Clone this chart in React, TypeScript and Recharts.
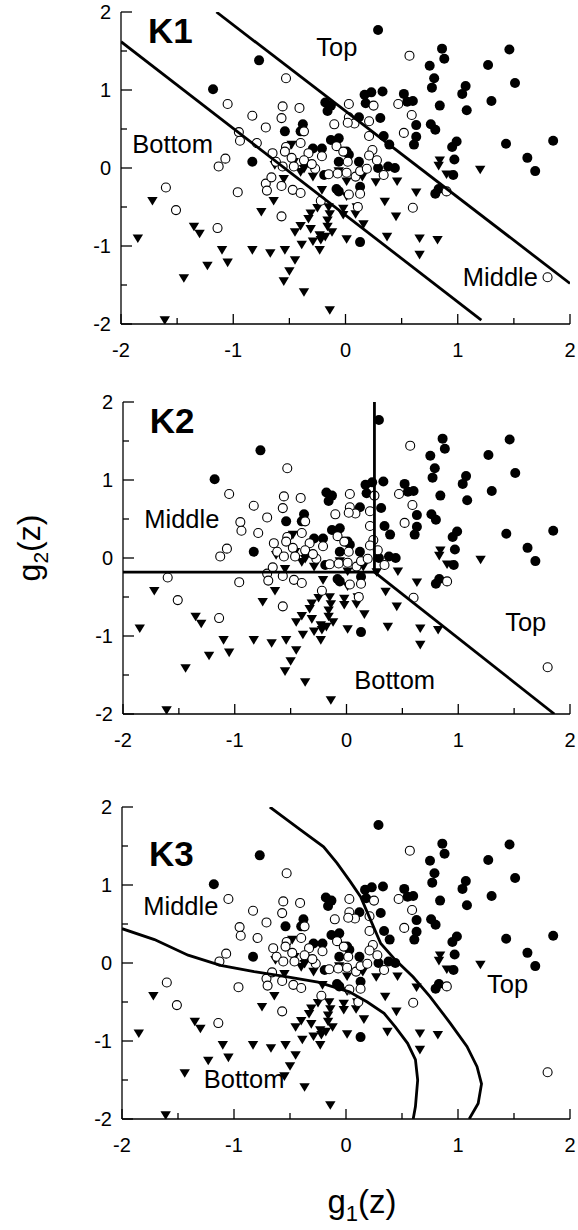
import React from "react";
import { ScatterChart, Scatter, XAxis, YAxis } from "recharts";

type XY = [number, number];

const TICKS = [-2, -1.5, -1, -0.5, 0, 0.5, 1, 1.5, 2];

// Top (filled circles)
const TOP: XY[] = [
  [0.29, 1.77], [-0.77, 1.38], [-1.18, 1.01], [0.86, 1.53], [0.88, 1.4], [1.46, 1.52],
  [0.75, 1.31], [1.27, 1.32], [0.79, 1.15], [0.77, 1.03], [1.51, 1.09], [1.07, 1.05],
  [1.04, 0.95], [1.3, 0.86], [0.84, 0.8], [1.08, 0.74], [0.76, 0.56], [0.8, 0.49],
  [0.99, 0.34], [0.95, 0.27], [1.43, 0.31], [1.85, 0.35], [0.97, 0.11], [1.62, 0.13],
  [1.69, -0.04], [0.17, 0.94], [0.23, 0.97], [0.33, 0.98], [0.18, 0.83], [0.52, 0.95],
  [0.55, 0.85], [0.6, 0.86], [-0.18, 0.84], [-0.13, 0.8], [-0.16, 0.73], [0.12, 0.65],
  [0.31, 0.64], [-0.38, 0.56], [-0.4, 0.47], [-0.54, 0.47], [0.34, 0.41], [0.63, 0.55],
  [0.63, 0.4], [0.61, 0.3], [-0.13, 0.36], [-0.06, 0.38], [-0.29, 0.25], [-0.21, 0.25],
  [0.01, 0.21], [0.03, 0.17], [0.39, 0.3], [-0.06, 0.08], [0.12, 0.08], [0.38, 0.02],
  [-0.83, 0.08], [0.29, 0.0], [0.44, 0.0], [0.96, -0.09], [0.8, -0.33], [0.83, -0.27],
  [-0.08, -0.27], [-0.06, -0.3], [0.13, -0.24], [0.13, -0.95], [-0.36, 0.07], [-0.19, -0.09],
];

// Middle (open circles)
const MIDDLE: XY[] = [
  [0.57, 1.44], [-0.53, 1.15], [-1.05, 0.82], [-0.83, 0.67], [-0.71, 0.52], [-0.95, 0.46],
  [-0.94, 0.35], [-0.79, 0.32], [-1.07, 0.12], [-1.13, 0.02], [0.47, 0.82], [0.03, 0.82],
  [0.25, 0.8], [-0.56, 0.79], [-0.41, 0.77], [-0.57, 0.64], [0.59, 0.68], [0.03, 0.65],
  [0.08, 0.57], [0.02, 0.58], [0.21, 0.6], [-0.1, 0.56], [-0.37, 0.47], [0.21, 0.41],
  [0.52, 0.45], [-0.4, 0.32], [-0.53, 0.27], [-0.54, 0.21], [-0.08, 0.28], [-0.02, 0.21],
  [-0.33, 0.19], [-0.21, 0.15], [0.24, 0.23], [0.21, 0.16], [-0.65, 0.19], [-0.48, 0.13],
  [0.02, 0.08], [0.28, 0.1], [-0.62, 0.08], [-1.6, -0.25], [-1.51, -0.54], [-0.96, -0.31],
  [-0.71, -0.2], [-0.7, -0.29], [-1.14, -0.77], [-0.66, -0.12], [-0.57, -0.23], [-0.47, -0.28],
  [-0.4, -0.32], [-0.57, -0.62], [-0.56, 0.02], [-0.46, 0.02], [-0.27, -0.01], [-0.15, -0.08],
  [-0.07, -0.07], [0.01, -0.06], [0.09, -0.11], [0.13, -0.04], [0.19, -0.01], [0.34, -0.09],
  [0.03, -0.34], [0.13, -0.33], [0.11, -0.5], [0.6, -0.51], [0.9, -0.3], [1.8, -1.4],
  [-0.22, -0.42], [-0.37, 0.1], [-0.3, 0.05],
];

// Bottom (filled triangles)
const BOTTOM: XY[] = [
  [-0.48, 0.3], [-1.72, -0.42], [-0.75, -0.56], [-1.35, -0.75], [-1.3, -0.84], [-1.85, -0.9],
  [-1.1, -1.05], [-0.83, -1.05], [-0.67, -1.09], [-1.23, -1.25], [-1.05, -1.21], [-1.44, -1.41],
  [-1.61, -1.95], [-0.55, -0.14], [-0.64, -0.42], [-0.37, -0.01], [-0.29, -0.11], [-0.21, -0.28],
  [0.01, -0.17], [0.46, -0.17], [0.27, -0.18], [0.01, -0.36], [0.63, -0.31], [-0.25, -0.51],
  [-0.31, -0.58], [-0.33, -0.65], [-0.15, -0.5], [-0.14, -0.59], [-0.16, -0.67], [-0.02, -0.52],
  [-0.02, -0.6], [0.09, -0.59], [0.35, -0.43], [0.45, -0.62], [-0.4, -0.74], [-0.45, -0.82],
  [-0.31, -0.78], [-0.16, -0.75], [-0.12, -0.82], [-0.23, -0.86], [-0.29, -0.94], [-0.22, -0.92],
  [-0.18, -0.88], [-0.39, -0.98], [-0.23, -1.05], [0.01, -0.91], [0.37, -0.88], [0.66, -0.9],
  [0.82, -0.92], [0.66, -1.11], [-0.54, -1.05], [-0.45, -1.18], [-0.5, -1.32], [-0.55, -1.45],
  [-0.37, -1.59], [-0.14, -1.82], [0.83, 0.03], [1.2, -0.02], [0.9, -0.08], [0.84, 0.1],
  [0.16, -0.72], [0.1, -0.5], [0.15, -0.11], [-0.4, -0.05], [-0.06, -0.04], [-0.46, 0.08],
  [-0.63, 0.04],
];

// K1 boundaries (two parallel lines)
const K1_LOWER: XY[] = [[-2, 1.62], [1.21, -1.95]];
const K1_UPPER: XY[] = [[-1.15, 2.0], [2.0, -1.48]];

// K2 boundaries
const K2_HORIZ: XY[] = [[-2, -0.18], [0.25, -0.18]];
const K2_VERT: XY[] = [[0.25, -0.18], [0.25, 2.0]];
const K2_DIAG: XY[] = [[0.25, -0.18], [1.86, -2.0]];

// K3 boundaries (curves)
const K3_LOWER: XY[] = [
  [-2, 0.44], [-1.71, 0.3], [-1.41, 0.1], [-1.12, -0.03], [-0.82, -0.11], [-0.55, -0.17],
  [-0.25, -0.245], [0.03, -0.37], [0.19, -0.5], [0.34, -0.645], [0.44, -0.82], [0.55, -1.03],
  [0.62, -1.24], [0.64, -1.5], [0.62, -1.84], [0.6, -2.0],
];
const K3_UPPER: XY[] = [
  [-0.68, 2.0], [-0.52, 1.83], [-0.4, 1.7], [-0.2, 1.49], [-0.08, 1.28], [0.04, 1.04],
  [0.13, 0.85], [0.22, 0.55], [0.31, 0.25], [0.44, 0.04], [0.6, -0.18], [0.75, -0.43],
  [0.93, -0.77], [1.08, -1.07], [1.17, -1.33], [1.21, -1.55], [1.18, -1.8], [1.1, -2.0],
];

const pts = (a: XY[]) => a.map(([x, y]) => ({ x, y }));

const FONT = "'Liberation Sans', Arial, sans-serif";

const Filled = (p: any) => <circle cx={p.cx} cy={p.cy} r={5} fill="#000" />;
const Open = (p: any) => (
  <circle cx={p.cx} cy={p.cy} r={4.5} fill="#fff" stroke="#000" strokeWidth={1.1} />
);
const Tri = (p: any) => (
  <polygon
    points={`${p.cx - 5.2},${p.cy - 3.8} ${p.cx + 5.2},${p.cy - 3.8} ${p.cx},${p.cy + 4.8}`}
    fill="#000"
  />
);
const NoDot = () => <g />;

const Tag = (p: any) => (
  <text
    x={p.cx}
    y={p.cy}
    fontFamily={FONT}
    fontSize={p.payload.bold ? 35 : 25.5}
    fontWeight={p.payload.bold ? "bold" : "normal"}
    fill="#000"
  >
    {p.payload.text}
  </text>
);

const XTick = (p: any) => {
  const v = p.payload.value;
  const major = Number.isInteger(v);
  return (
    <g>
      <line x1={p.x} x2={p.x} y1={p.y} y2={p.y - (major ? 10 : 6)} stroke="#000" strokeWidth={1.3} />
      {major && (
        <text x={p.x} y={p.y + 33} textAnchor="middle" fontFamily={FONT} fontSize={20} fill="#000">
          {v}
        </text>
      )}
    </g>
  );
};

const YTick = (p: any) => {
  const v = p.payload.value;
  const major = Number.isInteger(v);
  return (
    <g>
      <line x1={p.x} x2={p.x + (major ? 11 : 6)} y1={p.y} y2={p.y} stroke="#000" strokeWidth={1.3} />
      {major && (
        <text x={p.x - 10} y={p.y + 7} textAnchor="end" fontFamily={FONT} fontSize={20} fill="#000">
          {v}
        </text>
      )}
    </g>
  );
};

type Tagged = { x: number; y: number; text: string; bold?: boolean };

const K1_TAGS: Tagged[] = [
  { x: -1.76, y: 1.6, text: "K1", bold: true },
  { x: -0.26, y: 1.43, text: "Top" },
  { x: -1.9, y: 0.19, text: "Bottom" },
  { x: 1.045, y: -1.51, text: "Middle" },
];
const K2_TAGS: Tagged[] = [
  { x: -1.76, y: 1.6, text: "K2", bold: true },
  { x: -1.81, y: 0.39, text: "Middle" },
  { x: 1.42, y: -0.93, text: "Top" },
  { x: 0.07, y: -1.68, text: "Bottom" },
];
const K3_TAGS: Tagged[] = [
  { x: -1.76, y: 1.24, text: "K3", bold: true },
  { x: -1.81, y: 0.61, text: "Middle" },
  { x: 1.26, y: -0.39, text: "Top" },
  { x: -1.27, y: -1.6, text: "Bottom" },
];

function Panel({
  top,
  axisX,
  bounds,
  tags,
}: {
  top: number;
  axisX: number;
  bounds: XY[][];
  tags: Tagged[];
}) {
  return (
    <div style={{ position: "absolute", left: 0, top, width: 578, height: 370 }}>
      <ScatterChart width={578} height={370} margin={{ top: 12, right: 8, bottom: 6, left: 0 }}>
        <XAxis
          type="number"
          dataKey="x"
          domain={[-2, 2]}
          ticks={TICKS}
          interval={0}
          allowDataOverflow
          height={40}
          tickSize={0}
          tickMargin={0}
          tickLine={false}
          tick={<XTick />}
          axisLine={{ stroke: "#000", strokeWidth: 1.3 }}
        />
        <YAxis
          type="number"
          dataKey="y"
          domain={[-2, 2]}
          ticks={TICKS}
          interval={0}
          allowDataOverflow
          width={axisX}
          tickSize={0}
          tickMargin={0}
          tickLine={false}
          tick={<YTick />}
          axisLine={{ stroke: "#000", strokeWidth: 1.3 }}
        />
        <Scatter data={pts(TOP)} shape={Filled} isAnimationActive={false} />
        <Scatter data={pts(BOTTOM)} shape={Tri} isAnimationActive={false} />
        <Scatter data={pts(MIDDLE)} shape={Open} isAnimationActive={false} />
        {bounds.map((b, i) => (
          <Scatter
            key={i}
            data={pts(b)}
            line={{ stroke: "#000", strokeWidth: 2.8 }}
            shape={NoDot}
            isAnimationActive={false}
          />
        ))}
        <Scatter data={tags} shape={Tag} isAnimationActive={false} />
      </ScatterChart>
    </div>
  );
}

export default function App() {
  return (
    <div style={{ position: "absolute", left: 0, top: 0, width: 578, height: 1230, background: "#fff" }}>
      <Panel top={0} axisX={121} bounds={[K1_LOWER, K1_UPPER]} tags={K1_TAGS} />
      <Panel top={390} axisX={123} bounds={[K2_HORIZ, K2_VERT, K2_DIAG]} tags={K2_TAGS} />
      <Panel top={795} axisX={122} bounds={[K3_LOWER, K3_UPPER]} tags={K3_TAGS} />
      <svg
        width={578}
        height={1230}
        style={{ position: "absolute", left: 0, top: 0, pointerEvents: "none" }}
      >
        <text transform="translate(40,548) rotate(-90)" textAnchor="middle" fontFamily={FONT} fontSize={32} fill="#000">
          g<tspan fontSize={21} dy={8}>2</tspan>
          <tspan dy={-8}>(z)</tspan>
        </text>
        <text x={362} y={1213} textAnchor="middle" fontFamily={FONT} fontSize={33} fill="#000">
          g<tspan fontSize={22} dy={8}>1</tspan>
          <tspan dy={-8}>(z)</tspan>
        </text>
      </svg>
    </div>
  );
}
